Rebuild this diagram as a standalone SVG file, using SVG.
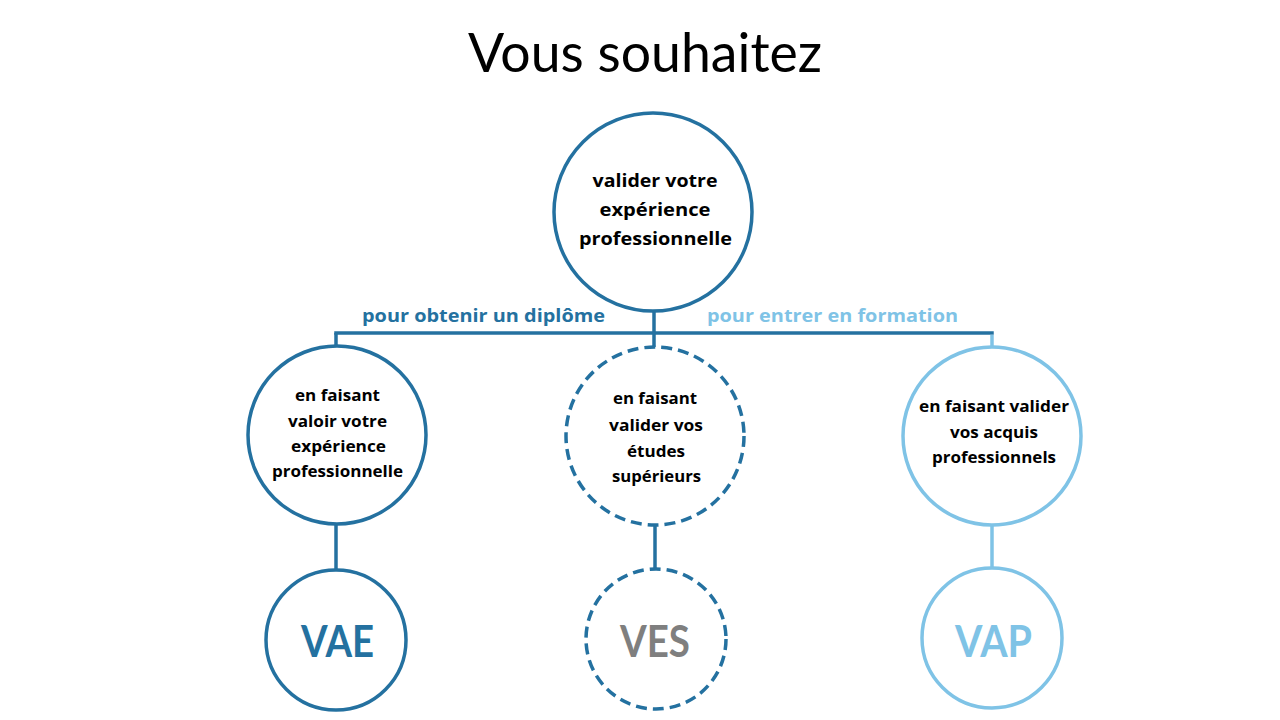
<svg xmlns="http://www.w3.org/2000/svg" width="1280" height="720" viewBox="0 0 1280 720">
<style>
  text { font-family: "Open Sans", Lato, "Liberation Sans", sans-serif; text-anchor: middle; }
  .title { font-family: Lato, "Open Sans", sans-serif; font-size: 54px; font-weight: 400; fill: #000; }
  .t1 { font-size: 18.5px; font-weight: 700; fill: #000; }
  .t2 { font-size: 16px; font-weight: 700; fill: #000; }
  .lbl { font-size: 18px; font-weight: 700; }
  .big { font-family: Lato, "Open Sans", sans-serif; font-size: 43px; font-weight: 700; }
  .dark { stroke: #2471A0; fill: #fff; stroke-width: 3.5; }
  .light { stroke: #7FC3E6; fill: #fff; stroke-width: 3.5; }
  .dash { stroke-dasharray: 11 6; }
  .ln { stroke: #2471A0; stroke-width: 3.5; fill: none; }
  .lnl { stroke: #7FC3E6; stroke-width: 3.5; fill: none; }
</style>
<rect width="1280" height="720" fill="#fff"/>
<text class="title" x="645" y="72" textLength="354" lengthAdjust="spacingAndGlyphs">Vous souhaitez</text>

<g id="connectors">
  <line class="ln" x1="654" y1="312" x2="654" y2="333"/>
  <line class="ln" x1="334.25" y1="333" x2="993.75" y2="333"/>
  <line class="ln" x1="336" y1="333" x2="336" y2="346"/>
  <line class="ln" x1="654" y1="333" x2="654" y2="347"/>
  <line class="lnl" x1="992" y1="334.75" x2="992" y2="347"/>
  <line class="ln" x1="336" y1="525" x2="336" y2="570"/>
  <line class="ln" x1="655" y1="525" x2="655" y2="569"/>
  <line class="lnl" x1="992" y1="525" x2="992" y2="568"/>
  <text class="lbl" x="483.5" y="322" fill="#2471A0" textLength="243" lengthAdjust="spacingAndGlyphs">pour obtenir un diplôme</text>
  <text class="lbl" x="832.5" y="322" fill="#7FC3E6" textLength="251" lengthAdjust="spacingAndGlyphs">pour entrer en formation</text>
</g>

<g id="node-top">
  <circle class="dark" cx="653" cy="212" r="99"/>
  <text class="t1" x="655" y="187" textLength="125" lengthAdjust="spacingAndGlyphs">valider votre</text>
  <text class="t1" x="655" y="216" textLength="111" lengthAdjust="spacingAndGlyphs">expérience</text>
  <text class="t1" x="655.5" y="245" textLength="153" lengthAdjust="spacingAndGlyphs">professionnelle</text>
</g>

<g id="node-vae-desc">
  <circle class="dark" cx="337" cy="435" r="89"/>
  <text class="t2" x="337.5" y="401" textLength="85" lengthAdjust="spacingAndGlyphs">en faisant</text>
  <text class="t2" x="337.5" y="427" textLength="99" lengthAdjust="spacingAndGlyphs">valoir votre</text>
  <text class="t2" x="338.5" y="452" textLength="95" lengthAdjust="spacingAndGlyphs">expérience</text>
  <text class="t2" x="337.5" y="477" textLength="131" lengthAdjust="spacingAndGlyphs">professionnelle</text>
</g>

<g id="node-ves-desc">
  <circle class="dark dash" cx="655" cy="436" r="89"/>
  <text class="t2" x="655" y="404" textLength="84" lengthAdjust="spacingAndGlyphs">en faisant</text>
  <text class="t2" x="656" y="431" textLength="94" lengthAdjust="spacingAndGlyphs">valider vos</text>
  <text class="t2" x="656" y="457" textLength="58" lengthAdjust="spacingAndGlyphs">études</text>
  <text class="t2" x="656.5" y="482" textLength="89" lengthAdjust="spacingAndGlyphs">supérieurs</text>
</g>

<g id="node-vap-desc">
  <circle class="light" cx="992" cy="436" r="89"/>
  <text class="t2" x="994" y="412" textLength="150" lengthAdjust="spacingAndGlyphs">en faisant valider</text>
  <text class="t2" x="994" y="438" textLength="88" lengthAdjust="spacingAndGlyphs">vos acquis</text>
  <text class="t2" x="994" y="463" textLength="124" lengthAdjust="spacingAndGlyphs">professionnels</text>
</g>

<g id="node-vae">
  <circle class="dark" cx="336" cy="640" r="70"/>
  <text class="big" x="337.5" y="657" fill="#2471A0" textLength="73" lengthAdjust="spacingAndGlyphs">VAE</text>
</g>

<g id="node-ves">
  <circle class="dark dash" cx="656" cy="639" r="70"/>
  <text class="big" x="655" y="657" fill="#7F7F7F" textLength="70" lengthAdjust="spacingAndGlyphs">VES</text>
</g>

<g id="node-vap">
  <circle class="light" cx="992" cy="638" r="70"/>
  <text class="big" x="993.5" y="657" fill="#7FC3E6" textLength="77" lengthAdjust="spacingAndGlyphs">VAP</text>
</g>
</svg>
